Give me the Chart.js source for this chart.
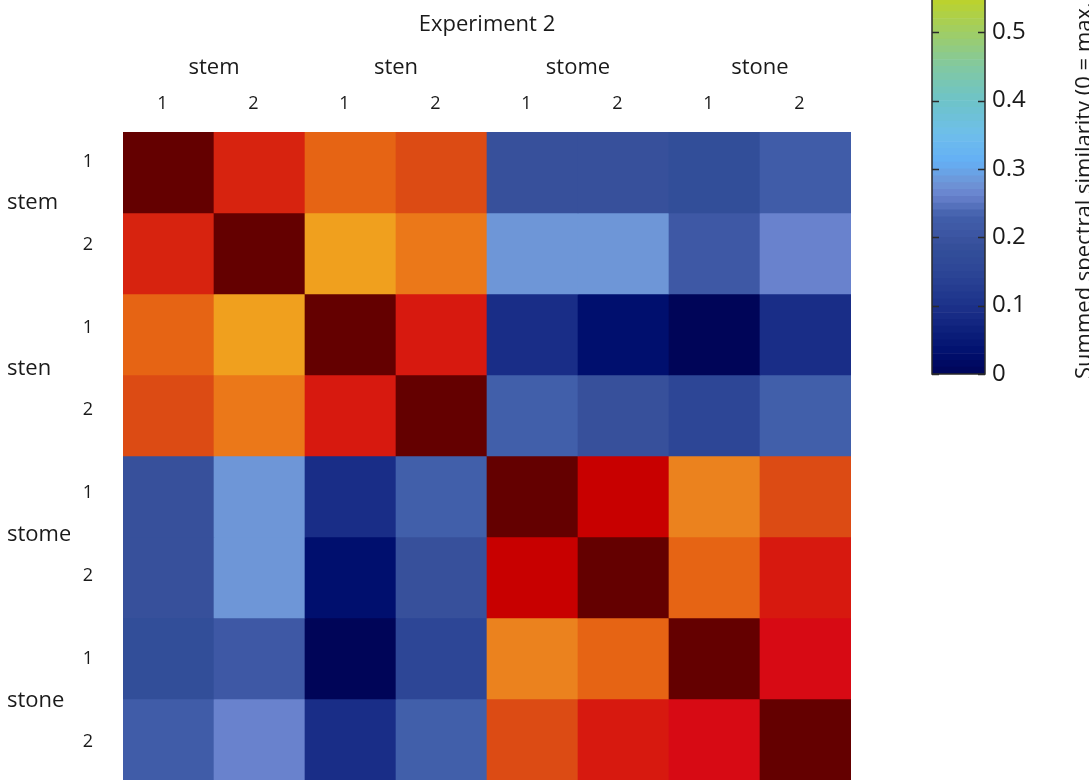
<!DOCTYPE html>
<html>
<head>
<meta charset="utf-8">
<script src="https://cdn.jsdelivr.net/npm/chart.js@4.4.1/dist/chart.umd.min.js"></script>
<style>
  html, body { margin: 0; padding: 0; background: #fff; }
  body { width: 1089px; height: 783px; position: relative; overflow: hidden; }
  #heat { position: absolute; left: 0; top: 0; width: 880px; height: 783px; }
  #cbar { position: absolute; left: 880px; top: 0; width: 209px; height: 783px; }
</style>
</head>
<body>
<canvas id="heat" width="880" height="783"></canvas>
<canvas id="cbar" width="209" height="783"></canvas>
<script>
// labels
const groups = ["stem", "sten", "stome", "stone"];
const colLabels = ["1", "2", "1", "2", "1", "2", "1", "2"];
const rowLabels = ["1", "2", "1", "2", "1", "2", "1", "2"];
const topTitle = "Experiment 2";
const cbarTitle = "Summed spectral similarity (0 = max. dissimilarity)";

// similarity values, row by row (stem1 .. stone2)
const stem1 = [1.00, 0.80, 0.73, 0.76, 0.19, 0.19, 0.18, 0.22];
const stem2 = [0.80, 1.00, 0.65, 0.70, 0.28, 0.28, 0.21, 0.26];
const sten1 = [0.73, 0.65, 1.00, 0.83, 0.09, 0.03, 0.00, 0.09];
const sten2 = [0.76, 0.70, 0.83, 1.00, 0.23, 0.19, 0.15, 0.23];
const stome1 = [0.19, 0.28, 0.09, 0.23, 1.00, 0.90, 0.685, 0.76];
const stome2 = [0.19, 0.28, 0.03, 0.19, 0.90, 1.00, 0.73, 0.83];
const stone1 = [0.18, 0.21, 0.00, 0.15, 0.685, 0.73, 1.00, 0.87];
const stone2 = [0.22, 0.26, 0.09, 0.23, 0.76, 0.83, 0.87, 1.00];
const rows = [stem1, stem2, sten1, sten2, stome1, stome2, stone1, stone2];

// colour bar
const cbarMin = 0;
const cbarMax = 0.547;
const cbarStep = 0.01;

// colormap stops
const cmapStops = [0, 0.03, 0.06, 0.09, 0.12, 0.15, 0.18, 0.19, 0.21, 0.23, 0.26, 0.28, 0.31, 0.35,
  0.40, 0.45, 0.50, 0.55, 0.60, 0.65, 0.685, 0.70, 0.73, 0.76, 0.80, 0.83, 0.87, 0.90, 1.00];
const cmapColors = [
  [0, 5, 88], [0, 15, 110], [12, 30, 122], [25, 45, 135], [35, 58, 143], [45, 70, 150],
  [50, 78, 153], [55, 80, 155], [62, 88, 165], [65, 95, 170], [105, 130, 205], [110, 150, 215],
  [100, 175, 245], [110, 190, 235], [110, 195, 200], [130, 200, 160], [160, 205, 100],
  [190, 210, 40], [235, 215, 30], [240, 160, 30], [235, 130, 30], [235, 120, 25], [230, 100, 20],
  [220, 75, 20], [215, 35, 15], [215, 25, 15], [215, 10, 20], [200, 0, 0], [100, 0, 0]
];

// the row labels of the original sit on a slightly wider spacing than the cells
const rowLabelMin = 0.1416;
const rowLabelMax = 7.962;

const FONT = "'Open Sans', 'Noto Sans', sans-serif";
const TXT = "#1a1a1a";

function colormap(v) {
  const n = cmapStops.length;
  v = Math.max(cmapStops[0], Math.min(cmapStops[n - 1], v));
  let i = 0;
  while (i < n - 2 && v > cmapStops[i + 1]) i++;
  const t = (v - cmapStops[i]) / (cmapStops[i + 1] - cmapStops[i]);
  const a = cmapColors[i], b = cmapColors[i + 1];
  const c = a.map((x, k) => Math.round(x + (b[k] - x) * t));
  return `rgb(${c.join(",")})`;
}

function fixSize(w, h) {
  return (scale) => {
    if (w != null) scale.width = w;
    if (h != null) scale.height = h;
    scale.paddingTop = 0;
    scale.paddingBottom = 0;
    scale.paddingLeft = 0;
    scale.paddingRight = 0;
  };
}

Chart.defaults.font.family = FONT;
Chart.defaults.color = TXT;
Chart.defaults.animation = false;
Chart.defaults.plugins.legend.display = false;
Chart.defaults.plugins.tooltip.enabled = false;

// heatmap: each row is a dataset of floating bars [r, r+1]
const heatSets = rows.map((vals, r) => ({
  data: vals.map(() => [r, r + 1]),
  backgroundColor: vals.map((v) => colormap(v)),
  borderWidth: 0,
  grouped: false,
  barPercentage: 1,
  categoryPercentage: 1
}));

const noGrid = { display: false, drawTicks: false };

new Chart(document.getElementById("heat"), {
  type: "bar",
  data: { labels: colLabels, datasets: heatSets },
  options: {
    responsive: false,
    layout: { padding: { left: 7, top: 0, right: 29, bottom: 3 } },
    scales: {
      x: {
        type: "category", position: "top", offset: true, weight: 0,
        grid: noGrid, border: { display: false },
        ticks: { font: { size: 18 }, padding: 17, labelOffset: -6, maxRotation: 0, autoSkip: false },
        afterFit: fixSize(null, 45)
      },
      xg: {
        type: "category", position: "top", offset: true, weight: 1, labels: groups,
        grid: noGrid, border: { display: false },
        ticks: { font: { size: 22 }, padding: 6, maxRotation: 0, autoSkip: false },
        title: { display: true, text: topTitle, font: { size: 22 }, padding: { top: 12, bottom: 0 } },
        afterFit: fixSize(null, 87)
      },
      y: { type: "linear", min: 0, max: 8, reverse: true, display: false },
      yr: {
        type: "linear", position: "left", weight: 0, reverse: true,
        min: rowLabelMin, max: rowLabelMax,
        grid: noGrid, border: { display: false },
        afterBuildTicks: (s) => { s.ticks = rowLabels.map((_, i) => ({ value: i + 0.5 })); },
        ticks: { font: { size: 18 }, padding: 30, autoSkip: false, callback: (v, i) => rowLabels[i] },
        afterFit: fixSize(53, null)
      },
      yg: {
        type: "linear", position: "left", weight: 1, reverse: true,
        min: rowLabelMin, max: rowLabelMax,
        grid: noGrid, border: { display: false },
        afterBuildTicks: (s) => { s.ticks = groups.map((_, g) => ({ value: 2 * g + 1 })); },
        ticks: { font: { size: 22 }, crossAlign: "far", autoSkip: false, callback: (v, i) => groups[i] },
        afterFit: fixSize(63, null)
      }
    }
  }
});

// colour bar
const levels = [];
for (let v = cbarMin; v < cbarMax; v += cbarStep) levels.push(v);
const cbarSets = levels.map((v) => ({
  data: [[v, Math.min(v + cbarStep, cbarMax)]],
  backgroundColor: colormap(v + cbarStep / 2),
  borderWidth: 0,
  grouped: false,
  barPercentage: 1,
  categoryPercentage: 1
}));

const cbarDecor = {
  id: "cbarDecor",
  afterDatasetsDraw(chart) {
    const { ctx, chartArea: a } = chart;
    const ys = chart.scales.y;
    ctx.save();
    ctx.strokeStyle = "#2a2a2a";
    ctx.lineWidth = 1.5;
    ctx.beginPath();
    ctx.moveTo(a.left, a.top);
    ctx.lineTo(a.left, a.bottom);
    ctx.lineTo(a.right, a.bottom);
    ctx.lineTo(a.right, a.top);
    ctx.stroke();
    ys.ticks.forEach((t) => {
      const y = Math.round(ys.getPixelForValue(t.value)) + 0.5;
      ctx.beginPath();
      ctx.moveTo(a.left, y); ctx.lineTo(a.left + 7, y);
      ctx.moveTo(a.right, y); ctx.lineTo(a.right - 7, y);
      ctx.stroke();
    });
    ctx.translate(211, 379);
    ctx.rotate(-Math.PI / 2);
    ctx.fillStyle = TXT;
    ctx.font = `22px ${FONT}`;
    ctx.textAlign = "left";
    ctx.textBaseline = "alphabetic";
    ctx.fillText(cbarTitle, 0, 0);
    ctx.restore();
  }
};

new Chart(document.getElementById("cbar"), {
  type: "bar",
  data: { labels: [""], datasets: cbarSets },
  options: {
    responsive: false,
    layout: { padding: { left: 52, top: 0, right: 0, bottom: 409 } },
    scales: {
      x: { display: false, offset: true },
      y: {
        type: "linear", position: "right", min: cbarMin, max: cbarMax,
        grid: noGrid, border: { display: false },
        ticks: { stepSize: 0.1, includeBounds: false, padding: 7, font: { size: 24 } },
        afterFit: fixSize(104, null)
      }
    }
  },
  plugins: [cbarDecor]
});
</script>
</body>
</html>
